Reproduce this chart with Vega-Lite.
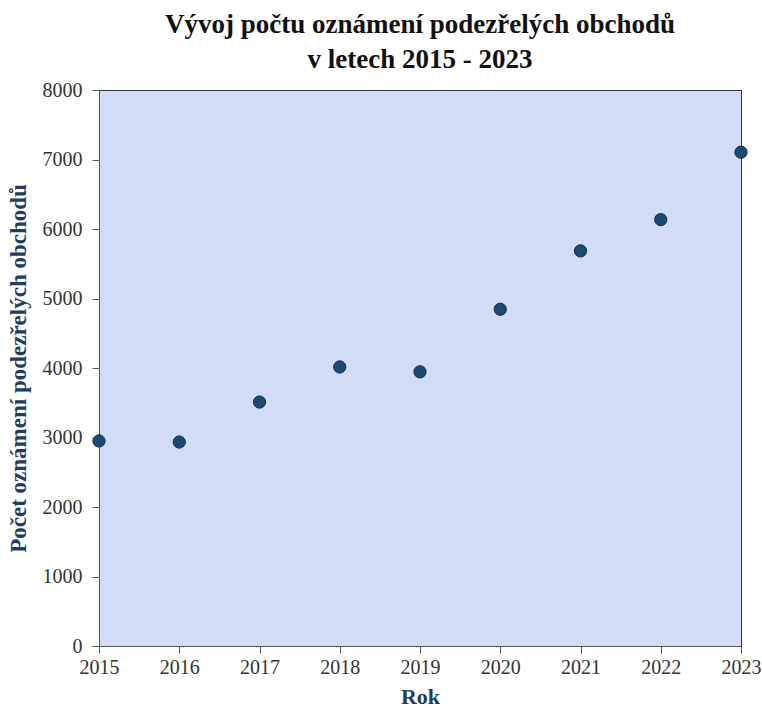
{
  "$schema": "https://vega.github.io/schema/vega-lite/v6.json",
  "width": 642,
  "height": 556,
  "autosize": {"type": "none"},
  "padding": {"left": 99, "top": 90, "right": 21, "bottom": 65},
  "background": "white",
  "title": {
    "text": ["Vývoj počtu oznámení podezřelých obchodů", "v letech 2015 - 2023"],
    "font": "Liberation Serif",
    "fontSize": 27,
    "fontWeight": "bold",
    "color": "#111111",
    "anchor": "middle",
    "lineHeight": 35,
    "offset": 6
  },
  "config": {
    "view": {"fill": "#d3dcf6", "stroke": "#333333", "strokeWidth": 1},
    "axis": {
      "labelFont": "Liberation Serif",
      "labelFontSize": 20,
      "labelColor": "#333333",
      "titleFont": "Liberation Serif",
      "titleFontSize": 23,
      "titleFontWeight": "bold",
      "titleColor": "#1f3d63",
      "domainColor": "#555555",
      "tickColor": "#555555",
      "tickSize": 7,
      "grid": false
    }
  },
  "data": {
    "values": [
      {"Rok": 2015, "Pocet": 2950},
      {"Rok": 2016, "Pocet": 2935},
      {"Rok": 2017, "Pocet": 3510},
      {"Rok": 2018, "Pocet": 4015},
      {"Rok": 2019, "Pocet": 3945},
      {"Rok": 2020, "Pocet": 4845},
      {"Rok": 2021, "Pocet": 5685},
      {"Rok": 2022, "Pocet": 6135},
      {"Rok": 2023, "Pocet": 7105}
    ]
  },
  "mark": {"type": "point", "filled": true, "size": 150, "color": "#1b4a75", "stroke": "#0d2a45", "strokeWidth": 1, "opacity": 1},
  "encoding": {
    "x": {
      "field": "Rok",
      "type": "quantitative",
      "scale": {"domain": [2015, 2023], "nice": false, "zero": false},
      "axis": {"title": "Rok", "titleFontSize": 22, "format": "d", "values": [2015, 2016, 2017, 2018, 2019, 2020, 2021, 2022, 2023], "titlePadding": 9, "labelPadding": 4, "labelFlush": false}
    },
    "y": {
      "field": "Pocet",
      "type": "quantitative",
      "scale": {"domain": [0, 8000], "nice": false},
      "axis": {"title": "Počet oznámení podezřelých obchodů", "format": "d", "values": [0, 1000, 2000, 3000, 4000, 5000, 6000, 7000, 8000], "titlePadding": 12, "labelPadding": 10}
    }
  }
}
